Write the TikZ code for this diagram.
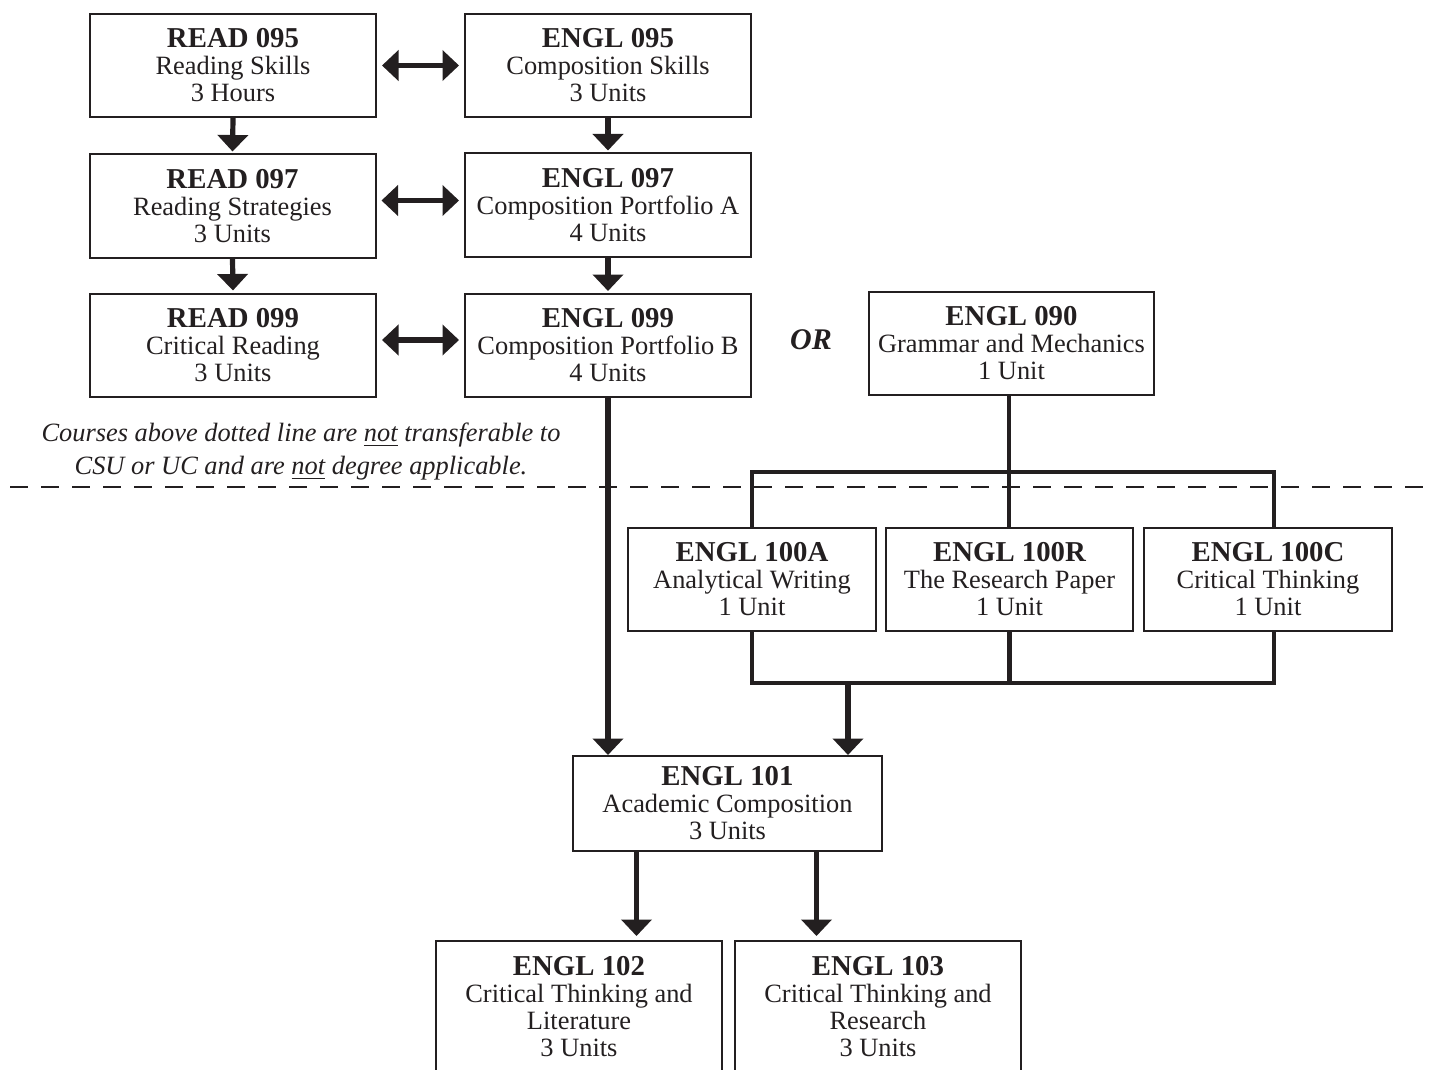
\documentclass[tikz,border=0pt]{standalone}
\usepackage{fontspec}
\setmainfont{Liberation Serif}
\usetikzlibrary{arrows.meta}
\definecolor{ink}{RGB}{35,31,32}
\newcommand{\cname}[1]{{\fontsize{14.4}{13.5}\selectfont\bfseries #1}}

\begin{document}
\begin{tikzpicture}[x=0.5pt,y=-0.5pt, color=ink,
	course/.style={draw, line width=1pt, align=center, inner sep=0pt,
		minimum width=143pt, minimum height=51.5pt,
		font=\fontsize{13.2}{13.5}\selectfont},
	arr/.style={line width=2.6pt, -{Triangle[width=15pt,length=8.25pt]}},
	darr/.style={line width=2.6pt, {Triangle[width=15pt,length=8.25pt]}-{Triangle[width=15pt,length=8.25pt]},
		shorten <=2.5pt, shorten >=2.5pt},
	bus/.style={line width=2.3pt}]
\useasboundingbox (0,0) rectangle (1431,1070);
% left column and first english column
\node[course] (read95) at (233,65.5) {\cname{READ 095}\\Reading Skills\\3 Hours};
\node[course] (read97) at (232.5,206) {\cname{READ 097}\\Reading Strategies\\3 Units};
\node[course] (read99) at (233,345) {\cname{READ 099}\\Critical Reading\\3 Units};
\node[course] (engl95) at (608,65.5) {\cname{ENGL 095}\\Composition Skills\\3 Units};
\node[course] (engl97) at (608,205) {\cname{ENGL 097}\\Composition Portfolio A\\4 Units};
\node[course] (engl99) at (608,345.5) {\cname{ENGL 099}\\Composition Portfolio B\\4 Units};
\node (or) at (811,340) {\fontsize{15}{15}\selectfont\bfseries\itshape OR};
\node[course, minimum width=142.5pt] (engl90) at (1011.5,343.5) {\cname{ENGL 090}\\Grammar and Mechanics\\1 Unit};
% note and dotted line
\node[align=center, font=\fontsize{13.2}{16.5}\selectfont\itshape] (note) at (301,452)
	{Courses above dotted line are \underline{not} transferable to\\CSU or UC and are \underline{not} degree applicable.};
\coordinate (dl) at (10,487);
\coordinate (dr) at (1431,487);
\draw[line width=1pt, dash pattern=on 9pt off 6.5pt] (dl) -- (dr);
% one unit courses
\node[course, minimum width=124pt] (engl100a) at (752,579.5) {\cname{ENGL 100A}\\Analytical Writing\\1 Unit};
\node[course, minimum width=123.5pt] (engl100r) at (1009.5,579.5) {\cname{ENGL 100R}\\The Research Paper\\1 Unit};
\node[course, minimum width=124pt] (engl100c) at (1268,579.5) {\cname{ENGL 100C}\\Critical Thinking\\1 Unit};
% transfer courses
\node[course, minimum width=154.5pt, minimum height=47.5pt] (engl101) at (727.5,803.5) {\cname{ENGL 101}\\Academic Composition\\3 Units};
\node[course, minimum height=65.5pt] (engl102) at (579,1006.5) {\cname{ENGL 102}\\Critical Thinking and\\Literature\\3 Units};
\node[course, minimum height=65.5pt] (engl103) at (878,1006.5) {\cname{ENGL 103}\\Critical Thinking and\\Research\\3 Units};

\draw[darr] ([yshift=0pt]read95.east) -- ([yshift=0pt]read95.east -| engl95.west);
\draw[darr] ([yshift=2.75pt]read97.east) -- ([yshift=2.75pt]read97.east -| engl97.west);
\draw[darr] ([yshift=2.5pt]read99.east) -- ([yshift=2.5pt]read99.east -| engl99.west);
\draw[arr, shorten >=1pt] (read95.south) -- (read97.north);
\draw[arr, shorten >=1pt] (read97.south) -- (read99.north);
\draw[arr, shorten >=1pt] (engl95.south) -- (engl97.north);
\draw[arr, shorten >=1pt] (engl97.south) -- (engl99.north);
\draw[arr] (engl99.south) -- (engl99.south |- engl101.north);

% bus lines round the one unit courses
\coordinate (tbm) at (1009,472);
\coordinate (tbr) at (1274,472);
\coordinate (bbr) at (1274,683);
\coordinate (join) at (848,683);
\draw[bus] (engl90.south -| tbm) -- (tbm |- engl100r.north);
\draw[bus] (engl100a.north) |- (tbr) -- (tbr |- engl100c.north);
\draw[bus] (engl100a.south) |- (bbr) -- (bbr |- engl100c.south);
\draw[bus] (engl100r.south) -- (engl100r.south |- bbr);
\draw[arr] (join) -- (join |- engl101.north);

\coordinate (l1) at ([xshift=-45.5pt]engl101.south);
\coordinate (r1) at ([xshift=44.5pt]engl101.south);
\draw[arr, shorten >=2pt] (l1) -- (l1 |- engl102.north);
\draw[arr, shorten >=2pt] (r1) -- (r1 |- engl103.north);
\end{tikzpicture}
\end{document}
